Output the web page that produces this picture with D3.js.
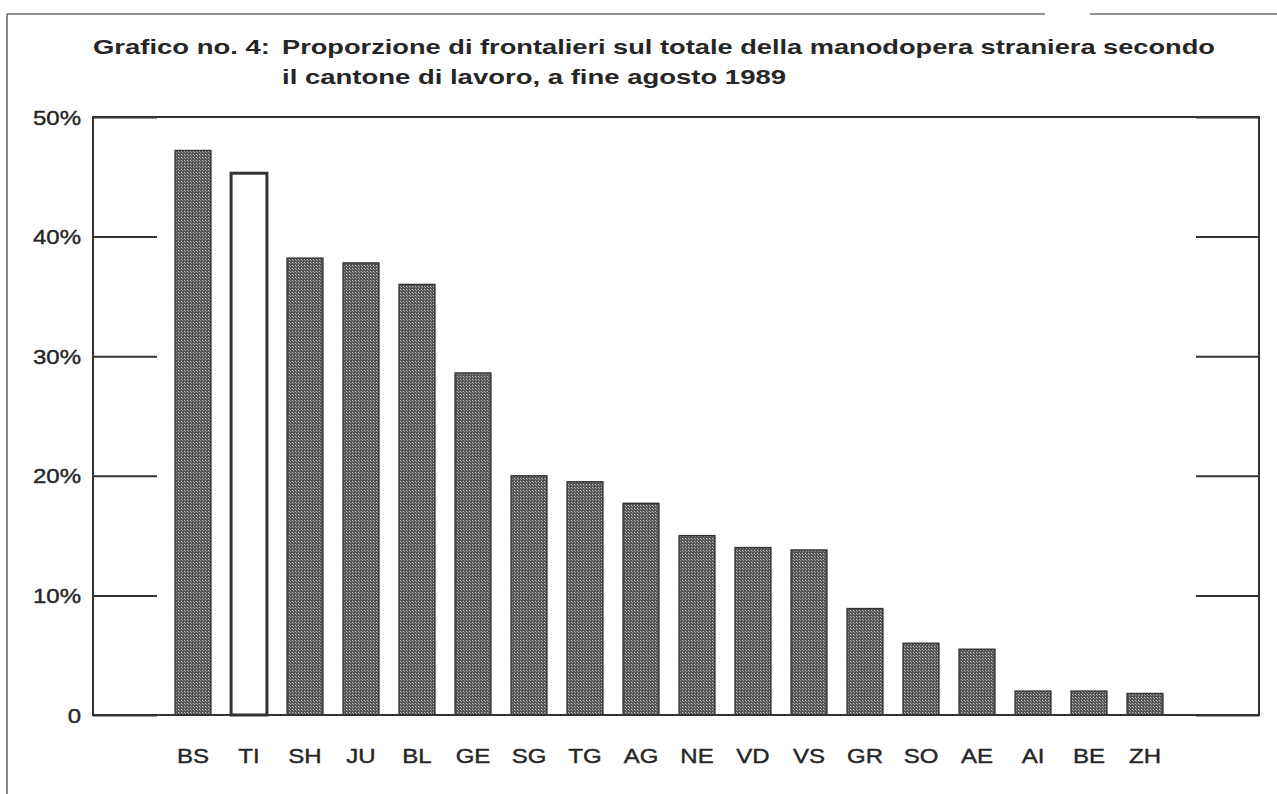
<!DOCTYPE html>
<html>
<head>
<meta charset="utf-8">
<script src="https://cdn.jsdelivr.net/npm/d3@7"></script>
<style>
  html, body { margin: 0; padding: 0; background: #fff; }
  svg { display: block; }
  text { font-family: "Liberation Sans", Arial, Helvetica, sans-serif; fill: #262626; }
</style>
</head>
<body>
<svg id="chart" width="1277" height="794"></svg>
<script>
// ---- data ----
const cantons = ["BS","TI","SH","JU","BL","GE","SG","TG","AG","NE","VD","VS","GR","SO","AE","AI","BE","ZH"];
const shares  = [47.2, 45.3, 38.2, 37.8, 36.0, 28.6, 20.0, 19.5, 17.7, 15.0, 14.0, 13.8, 8.9, 6.0, 5.5, 2.0, 2.0, 1.8];
const highlighted = ["TI"];
const yTickValues = [0, 10, 20, 30, 40, 50];
const yTickLabels = ["0", "10%", "20%", "30%", "40%", "50%"];
const titleLine1a = "Grafico no. 4:";
const titleLine1b = "Proporzione di frontalieri sul totale della manodopera straniera secondo";
const titleLine2  = "il cantone di lavoro, a fine agosto 1989";

// ---- layout ----
const svg = d3.select("#chart");
const plot = { left: 93, right: 1259, top: 117, bottom: 715 };
const SX = 1.2; // horizontal stretch of the scanned lettering
const ink = "#333";

// pattern for shaded bars
const defs = svg.append("defs");
const pat = defs.append("pattern").attr("id", "dots")
  .attr("width", 3).attr("height", 3).attr("patternUnits", "userSpaceOnUse");
pat.append("rect").attr("width", 3).attr("height", 3).attr("fill", "#555");
pat.append("rect").attr("x", 1).attr("y", 1).attr("width", 1).attr("height", 1).attr("fill", "#c4c4c4");
pat.append("rect").attr("x", 2).attr("y", 2).attr("width", 1).attr("height", 1).attr("fill", "#9a9a9a");

// outer frame of the page scan
svg.append("line").attr("x1", 7).attr("x2", 7).attr("y1", 14).attr("y2", 794)
  .attr("stroke", "#6a6a6a").attr("stroke-width", 1.6);
svg.append("line").attr("x1", 7).attr("x2", 1045).attr("y1", 14).attr("y2", 14)
  .attr("stroke", "#6a6a6a").attr("stroke-width", 1.6);
svg.append("line").attr("x1", 1090).attr("x2", 1277).attr("y1", 14).attr("y2", 14)
  .attr("stroke", "#6a6a6a").attr("stroke-width", 1.6);

// title (lettering stretched to the scanned extents)
function titleText(str, x, y, len) {
  return svg.append("text")
    .attr("x", x).attr("y", y)
    .attr("font-size", 21).attr("font-weight", "bold")
    .attr("textLength", len).attr("lengthAdjust", "spacingAndGlyphs")
    .attr("fill", "#262626")
    .text(str);
}
titleText(titleLine1a, 93, 54, 177);
titleText(titleLine1b, 282, 54, 933);
titleText(titleLine2, 282, 84, 504);

// scales
const x = d3.scaleBand().domain(cantons).range([165, 1173]).paddingInner(0.36).paddingOuter(0.18);
const y = d3.scaleLinear().domain([0, 50]).range([plot.bottom, plot.top]);

// bars
svg.append("g").selectAll("rect").data(cantons).join("rect")
  .attr("x", d => x(d))
  .attr("y", (d, i) => y(shares[i]))
  .attr("width", x.bandwidth())
  .attr("height", (d, i) => y(0) - y(shares[i]))
  .attr("fill", d => highlighted.includes(d) ? "#fff" : "url(#dots)")
  .attr("stroke", ink)
  .attr("stroke-width", d => highlighted.includes(d) ? 3 : 1.4);

// left axis (labels + inward ticks)
const yAxisL = svg.append("g").attr("transform", `translate(${plot.left},0)`)
  .call(d3.axisLeft(y).tickValues(yTickValues)
    .tickFormat((d, i) => yTickLabels[i]).tickSize(-64).tickPadding(13));
yAxisL.select(".domain").remove();
yAxisL.selectAll(".tick line").attr("stroke", ink).attr("stroke-width", 2);
yAxisL.selectAll(".tick text")
  .attr("x", null).attr("dy", null)
  .attr("transform", `translate(-12,7) scale(${SX},1)`)
  .attr("font-size", 20).attr("font-family", "Liberation Sans, Arial, sans-serif")
  .attr("fill", "#262626").attr("stroke", "#262626").attr("stroke-width", 0.4);

// right axis (inward ticks only)
const yAxisR = svg.append("g").attr("transform", `translate(${plot.right},0)`)
  .call(d3.axisRight(y).tickValues(yTickValues).tickFormat("").tickSize(-63));
yAxisR.select(".domain").remove();
yAxisR.selectAll(".tick line").attr("stroke", ink).attr("stroke-width", 2);

// x axis labels
const xAxis = svg.append("g").attr("transform", `translate(0,${plot.bottom})`)
  .call(d3.axisBottom(x).tickSize(0));
xAxis.select(".domain").remove();
xAxis.selectAll(".tick text")
  .attr("y", null).attr("dy", null)
  .attr("transform", `translate(0,48) scale(${SX},1)`)
  .attr("font-size", 20).attr("font-family", "Liberation Sans, Arial, sans-serif")
  .attr("fill", "#262626").attr("stroke", "#262626").attr("stroke-width", 0.4);

// plot box
svg.append("rect")
  .attr("x", plot.left).attr("y", plot.top)
  .attr("width", plot.right - plot.left).attr("height", plot.bottom - plot.top)
  .attr("fill", "none").attr("stroke", ink).attr("stroke-width", 2);
</script>
</body>
</html>
